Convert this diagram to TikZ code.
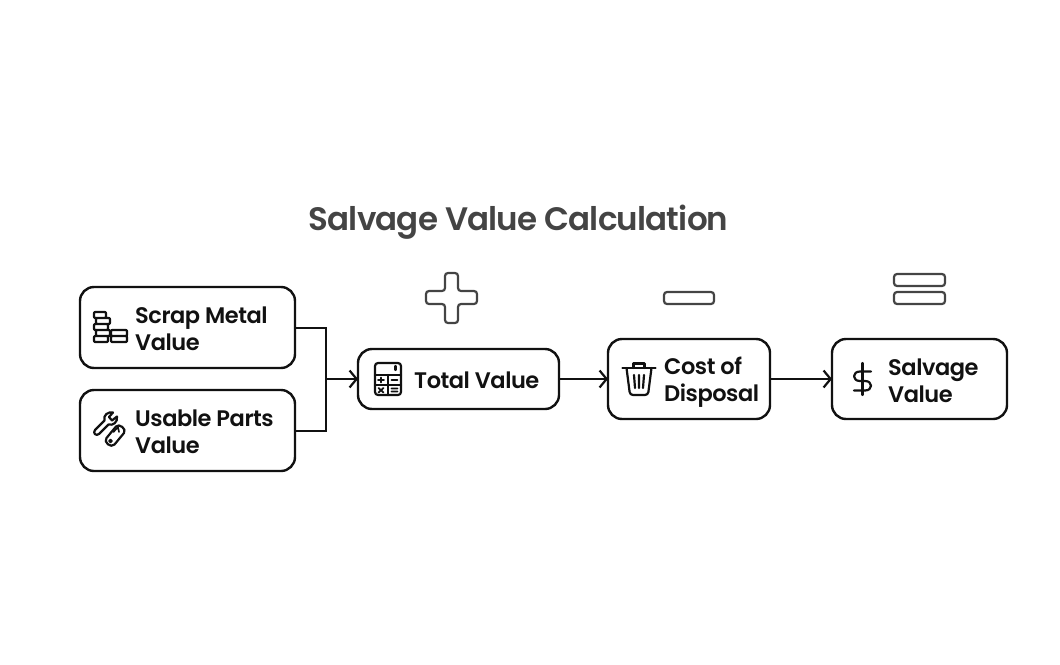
\documentclass[tikz,border=0pt]{standalone}
\usepackage{fontspec}
\setmainfont{Poppins SemiBold}[LetterSpace=-2]
\newfontfamily\titlefont{Poppins SemiBold}[LetterSpace=-2.5]
\usetikzlibrary{arrows.meta}
\usetikzlibrary{calc}
\definecolor{ink}{HTML}{111111}
\definecolor{sign}{HTML}{444444}
\newcommand{\coin}[3]% left, right, top
{(#1,#3) rectangle (#2,#3+6)
}
\tikzset{
	stepbox/.style={draw=ink, line width=2.4pt, rounded corners=14pt, anchor=north west, inner sep=0pt, outer sep=0pt},
	boxtext/.style={anchor=west, align=left, inner sep=0pt, text=ink, font=\fontsize{22.5}{27}\selectfont},
	icon/.style={draw=ink, line width=2.2pt, line join=round, line cap=round},
	signbox/.style={draw=sign, line width=2.2pt, rounded corners=3pt},
	link/.style={draw=ink, line width=2pt},
	arrow/.style={link, -{Straight Barb[length=7pt,width=17pt,line width=2.2pt]}}
}

\begin{document}
\begin{tikzpicture}[x=1pt,y=-1pt]
	\useasboundingbox (0,0) rectangle (1060,664);
	\node[text=sign, font=\titlefont\fontsize{32.5}{40}\selectfont] (title) at (518.5,222.5) {Salvage Value Calculation};
	% boxes
	\node[stepbox, minimum width=215pt, minimum height=81pt] (scrap) at (80,287) {};
	\node[stepbox, minimum width=215pt, minimum height=81pt] (usable) at (80,390) {};
	\node[stepbox, minimum width=201pt, minimum height=60pt] (total) at (358,349) {};
	\node[stepbox, minimum width=162pt, minimum height=80pt] (disposal) at (608,339) {};
	\node[stepbox, minimum width=175pt, minimum height=80pt] (salvage) at (832,339) {};
	\node[boxtext] (scraptext) at (135,328.5) {Scrap Metal\\Value};
	\node[boxtext] (usabletext) at (135,431.5) {Usable Parts\\Value};
	\node[boxtext] (totaltext) at (414,380) {Total Value};
	\node[boxtext] (disposaltext) at (664,382) {Cost of\\Disposal};
	\node[boxtext] (salvagetext) at (888,380.5) {Salvage\\Value};
	% connectors
	\coordinate (join) at (326,379);
	\draw[link] (scrap.east) -| (join);
	\draw[link] (usable.east) -| (join);
	\draw[arrow] (join) -- (total.west);
	\draw[arrow] (total.east) -- (disposal.west);
	\draw[arrow] (disposal.east) -- (salvage.west);
	% signs
	\draw[signbox] (445,273) -- (458,273) -- (458,291) -- (477,291) -- (477,304) -- (458,304) -- (458,323) -- (445,323) -- (445,304) -- (426,304) -- (426,291) -- (445,291) -- cycle;
	\draw[signbox] (664,292) rectangle (714,304);
	\draw[signbox] (894,274) rectangle (945,286);
	\draw[signbox] (894,292) rectangle (945,304);
	% coins
	\draw[icon, rounded corners=1pt] \coin{94}{106}{312} \coin{96}{110}{318} \coin{94}{108}{324} \coin{96}{110}{330} \coin{94}{108}{336};
	\draw[icon, rounded corners=1pt] \coin{111}{127}{330} \coin{111}{127}{336};
	% wrench and knife
	\draw[icon] (95,430) -- (104.5,420.5) .. controls (103,415) and (108,411.5) .. (113,412.5) -- (109,417) -- (112,420.5) -- (117,416.5) .. controls (118,422) and (113,426) .. (108.5,424.5) -- (99,434) .. controls (96,436.5) and (92.5,433) .. (95,430) -- cycle;
	\draw[icon] (106.5,438) -- (116,426.5) .. controls (119,423) and (127,429) .. (124,433) -- (114.5,444.5) .. controls (111,448.5) and (103,442) .. (106.5,438) -- cycle;
	\draw[icon, line width=1.6pt] (110.5,441) circle (1.5);
	\draw[icon, line width=1.6pt] (113.5,432) -- (118,427) -- (119,432);
	% calculator
	\draw[icon, rounded corners=3pt] (375,363) rectangle (401,395);
	\draw[icon] (375,375) -- (401,375) (388,375) -- (388,395) (375,385) -- (401,385);
	\draw[icon] (395.5,366) -- (395.5,370);
	\draw[icon, line width=1.8pt] (378,380) -- (384,380) (381,377.5) -- (381,382.5) (391.5,380) -- (397.5,380);
	\draw[icon, line width=1.8pt] (378.5,388) -- (383.5,392.5) (383.5,388) -- (378.5,392.5) (391.5,388.5) -- (397.5,388.5) (391.5,391.5) -- (397.5,391.5);
	% trash can
	\draw[icon] (622.5,368) -- (655.5,368);
	\draw[icon] (633.5,368) -- (633.5,363.5) -- (644.5,363.5) -- (644.5,368);
	\draw[icon, rounded corners=3pt] (626.5,368) -- (630,395) -- (648,395) -- (651.5,368);
	\draw[icon] (634,375) -- (635,388) (639,375) -- (639,388) (644,375) -- (643,388);
	% dollar
	\draw[icon] (862.5,363) -- (862.5,395);
	\draw[icon] (871,371.5) -- (860,371.5) .. controls (852,371.5) and (852,381) .. (860,381) -- (865,381) .. controls (873,381) and (873,390.5) .. (865,390.5) -- (854,390.5);
\end{tikzpicture}
\end{document}
